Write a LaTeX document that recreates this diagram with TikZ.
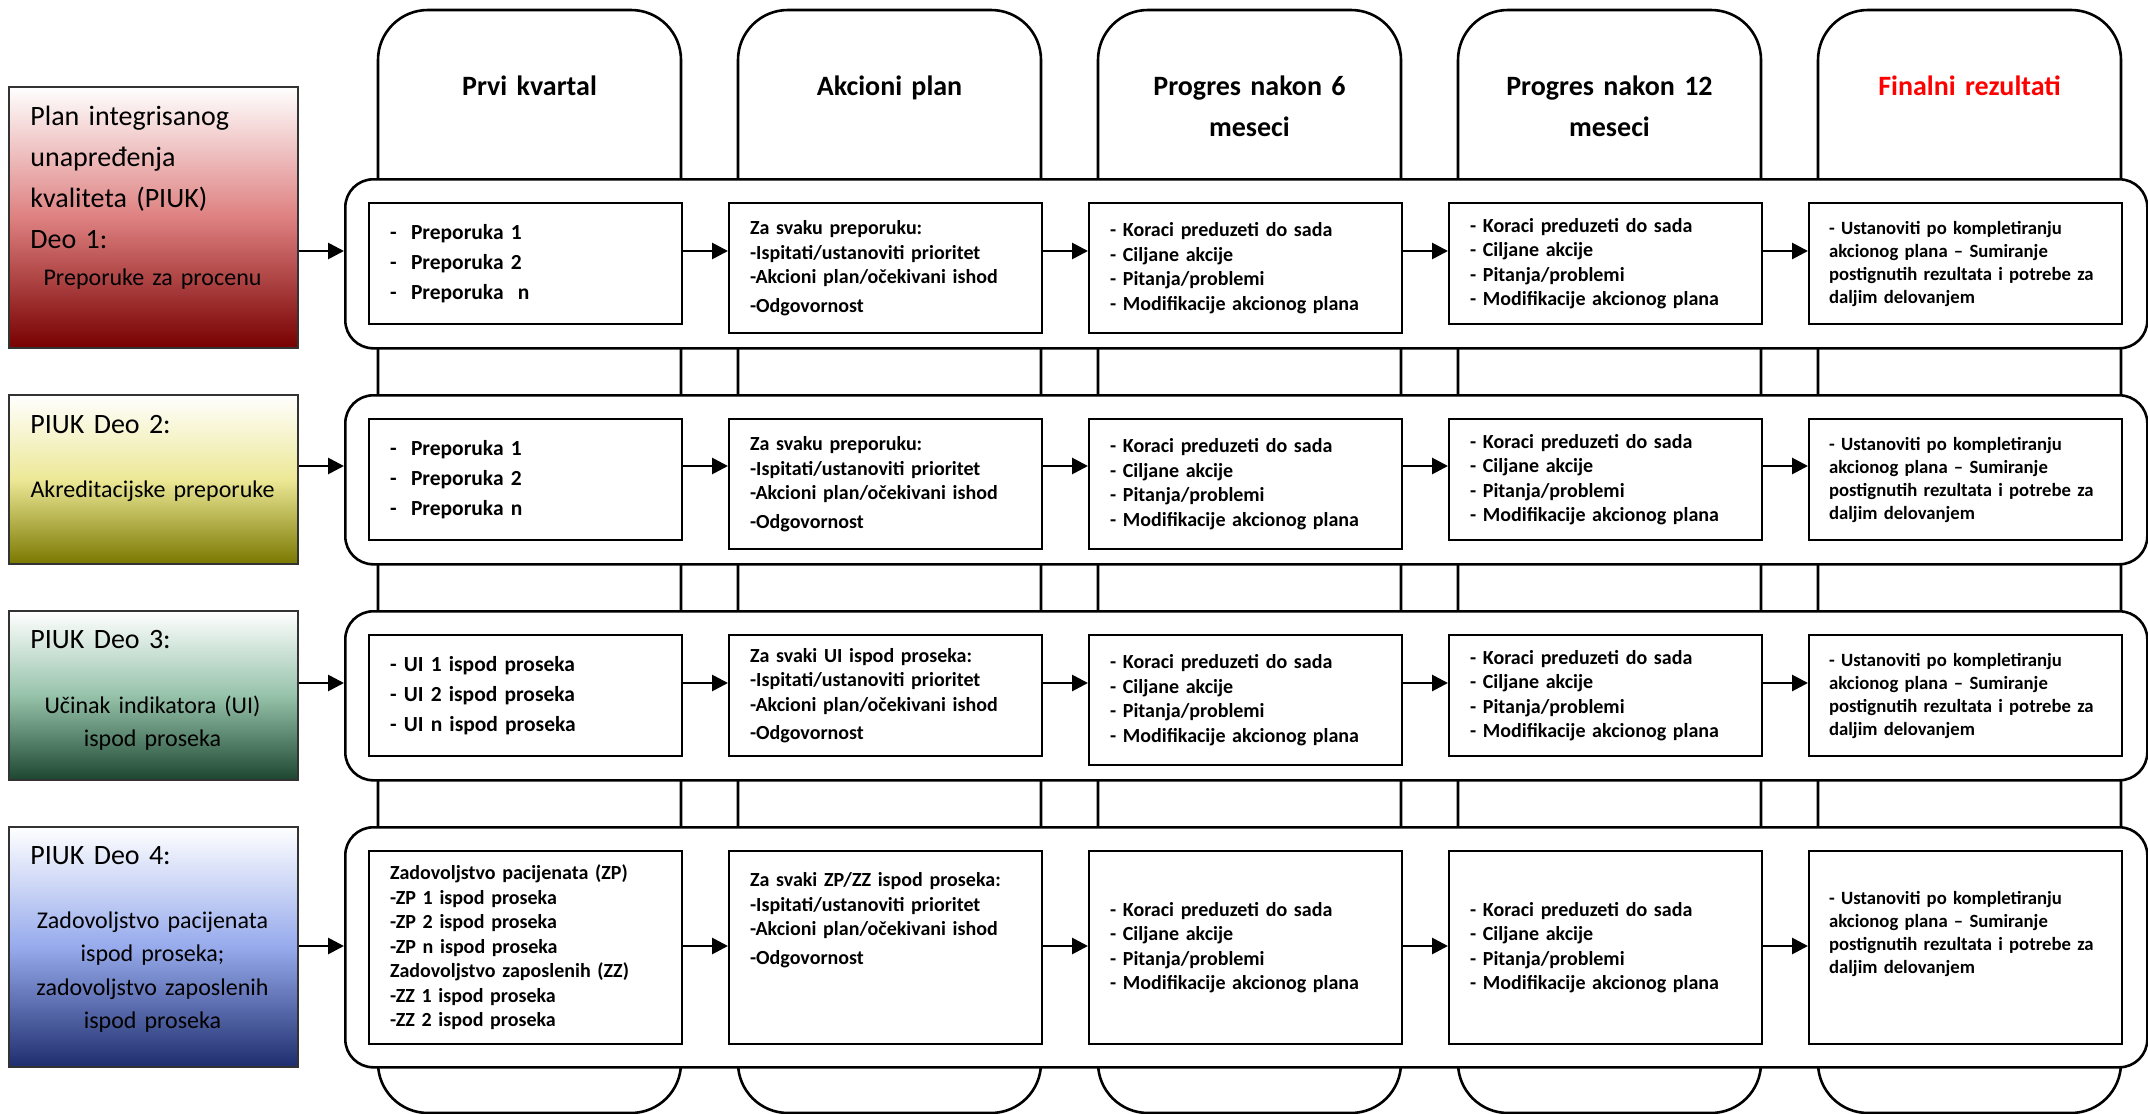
\documentclass[tikz,border=0pt]{standalone}
\usepackage{fontspec}
\setmainfont{Carlito}
\usepackage{xcolor}
\usetikzlibrary{arrows.meta,positioning}

\definecolor{redmid}{RGB}{222,128,128}
\definecolor{reddark}{RGB}{120,0,0}
\definecolor{olivemid}{RGB}{236,232,150}
\definecolor{olivedark}{RGB}{122,120,0}
\definecolor{greenmid}{RGB}{150,194,170}
\definecolor{greendark}{RGB}{28,70,48}
\definecolor{bluemid}{RGB}{150,170,236}
\definecolor{bluedark}{RGB}{30,45,110}

\begin{document}
\begin{tikzpicture}[x=0.5pt,y=-0.5pt,node distance=22.4pt,>={Triangle[length=8pt,width=8pt]},
  colbox/.style={draw,line width=1.3pt,rounded corners=25pt},
  band/.style={draw,line width=1.3pt,fill=white,rounded corners=14pt,anchor=north west,minimum width=901pt,minimum height=84.5pt},
  lbox/.style={draw=black!80,line width=1pt,anchor=north west,minimum width=144.5pt,minimum height=84.5pt},
  ltitle/.style={font=\fontsize{14}{20.5}\selectfont,text width=130pt,align=left,inner sep=0pt,anchor=base west},
  lsub/.style={font=\fontsize{12}{16.5}\selectfont,text width=140pt,align=center,inner sep=0pt,anchor=base},
  hdtext/.style={font=\bfseries\fontsize{14}{20.5}\selectfont,text width=145pt,align=center,inner sep=0pt,anchor=base},
  inbox/.style={draw,line width=1.1pt,fill=white,anchor=north west,minimum width=156.5pt,minimum height=60.5pt,text width=135.5pt,inner xsep=10.5pt,align=left,font=\bfseries\fontsize{10}{12.25}\selectfont},
  tallbox/.style={minimum height=65pt},
  firstcol/.style={font=\bfseries\fontsize{10.75}{15}\selectfont},
  lastcol/.style={font=\bfseries\fontsize{9.35}{11.5}\selectfont,inner xsep=10pt,text width=136.5pt},
  arr/.style={->,line width=1.4pt}]
\useasboundingbox (0,0) rectangle (2148,1114);

% stupci (kolone)
\foreach \i in {0,...,4}
  \draw[colbox] (378+360*\i,1113) rectangle (681+360*\i,10);

\node[hdtext] (hd1) at (529.5,95) {Prvi kvartal};
\node[hdtext] (hd2) at (889.5,95) {Akcioni plan};
\node[hdtext] (hd3) at (1249.5,95) {Progres nakon 6\\meseci};
\node[hdtext] (hd4) at (1609.5,95) {Progres nakon 12\\meseci};
\node[hdtext,text=red] (hd5) at (1969.5,95) {Finalni rezultati};

% redovi
\node[band] (band1) at (344,178) {};
\node[band] (band2) at (344,394) {};
\node[band] (band3) at (344,610) {};
\node[band,minimum height=120pt] (band4) at (344,826) {};

% levi blokovi
\node[lbox,minimum height=130.5pt,top color=white,bottom color=reddark,middle color=redmid] (lbox1) at (8,86) {};
\node[lbox,top color=white,bottom color=olivedark,middle color=olivemid] (lbox2) at (8,394) {};
\node[lbox,top color=white,bottom color=greendark,middle color=greenmid] (lbox3) at (8,610) {};
\node[lbox,minimum height=120pt,top color=white,bottom color=bluedark,middle color=bluemid] (lbox4) at (8,826) {};

\node[ltitle] (lt1) at (30,125) {Plan integrisanog\\unapređenja\\kvaliteta (PIUK)\\Deo 1:};
\node[lsub] (ls1) at (152.5,285) {Preporuke za procenu};
\node[ltitle] (lt2) at (30,433) {PIUK Deo 2:};
\node[lsub] (ls2) at (152.5,497) {Akreditacijske preporuke};
\node[ltitle] (lt3) at (30,648) {PIUK Deo 3:};
\node[lsub] (ls3) at (152.5,713) {Učinak indikatora (UI)\\ispod proseka};
\node[ltitle] (lt4) at (30,864) {PIUK Deo 4:};
\node[lsub,font=\fontsize{12}{16.8}\selectfont] (ls4) at (152.5,928) {Zadovoljstvo pacijenata\\ispod proseka;\\zadovoljstvo zaposlenih\\ispod proseka};

% red 1
\node[inbox,firstcol] (c11) at (368,202) {-~~Preporuka 1\\-~~Preporuka 2\\-~~Preporuka~~n};
\node[inbox,tallbox,right=of c11.north east,anchor=north west] (c12) {Za svaku preporuku:\\-Ispitati/ustanoviti prioritet\\-Akcioni plan/očekivani ishod\\[2pt]-Odgovornost};
\node[inbox,tallbox,right=of c12.north east,anchor=north west] (c13) {- Koraci preduzeti do sada\\- Ciljane akcije\\- Pitanja/problemi\\- Modifikacije akcionog plana};
\node[inbox,right=of c13.north east,anchor=north west] (c14) {- Koraci preduzeti do sada\\- Ciljane akcije\\- Pitanja/problemi\\- Modifikacije akcionog plana};
\node[inbox,lastcol,right=of c14.north east,anchor=north west] (c15) {- Ustanoviti po kompletiranju\\akcionog plana – Sumiranje\\postignutih rezultata i potrebe za\\daljim delovanjem};

% red 2
\node[inbox,firstcol] (c21) at (368,418) {-~~Preporuka 1\\-~~Preporuka 2\\-~~Preporuka n};
\node[inbox,tallbox,right=of c21.north east,anchor=north west] (c22) {Za svaku preporuku:\\-Ispitati/ustanoviti prioritet\\-Akcioni plan/očekivani ishod\\[2pt]-Odgovornost};
\node[inbox,tallbox,right=of c22.north east,anchor=north west] (c23) {- Koraci preduzeti do sada\\- Ciljane akcije\\- Pitanja/problemi\\- Modifikacije akcionog plana};
\node[inbox,right=of c23.north east,anchor=north west] (c24) {- Koraci preduzeti do sada\\- Ciljane akcije\\- Pitanja/problemi\\- Modifikacije akcionog plana};
\node[inbox,lastcol,right=of c24.north east,anchor=north west] (c25) {- Ustanoviti po kompletiranju\\akcionog plana – Sumiranje\\postignutih rezultata i potrebe za\\daljim delovanjem};

% red 3
\node[inbox,firstcol] (c31) at (368,634) {- UI 1 ispod proseka\\- UI 2 ispod proseka\\- UI n ispod proseka};
\node[inbox,right=of c31.north east,anchor=north west] (c32) {Za svaki UI ispod proseka:\\-Ispitati/ustanoviti prioritet\\-Akcioni plan/očekivani ishod\\[2pt]-Odgovornost};
\node[inbox,tallbox,right=of c32.north east,anchor=north west] (c33) {- Koraci preduzeti do sada\\- Ciljane akcije\\- Pitanja/problemi\\- Modifikacije akcionog plana};
\node[inbox,right=of c33.north east,anchor=north west] (c34) {- Koraci preduzeti do sada\\- Ciljane akcije\\- Pitanja/problemi\\- Modifikacije akcionog plana};
\node[inbox,lastcol,right=of c34.north east,anchor=north west] (c35) {- Ustanoviti po kompletiranju\\akcionog plana – Sumiranje\\postignutih rezultata i potrebe za\\daljim delovanjem};

% red 4
\node[inbox,minimum height=96.5pt] (c41) at (368,850) {Zadovoljstvo pacijenata (ZP)\\-ZP 1 ispod proseka\\-ZP 2 ispod proseka\\-ZP n ispod proseka\\Zadovoljstvo zaposlenih (ZZ)\\-ZZ 1 ispod proseka\\-ZZ 2 ispod proseka};
\node[inbox,minimum height=96.5pt,right=of c41.north east,anchor=north west] (c42) {Za svaki ZP/ZZ ispod proseka:\\-Ispitati/ustanoviti prioritet\\-Akcioni plan/očekivani ishod\\[2pt]-Odgovornost\\[17pt]\mbox{}};
\node[inbox,minimum height=96.5pt,right=of c42.north east,anchor=north west] (c43) {- Koraci preduzeti do sada\\- Ciljane akcije\\- Pitanja/problemi\\- Modifikacije akcionog plana};
\node[inbox,minimum height=96.5pt,right=of c43.north east,anchor=north west] (c44) {- Koraci preduzeti do sada\\- Ciljane akcije\\- Pitanja/problemi\\- Modifikacije akcionog plana};
\node[inbox,lastcol,minimum height=96.5pt,right=of c44.north east,anchor=north west] (c45) {- Ustanoviti po kompletiranju\\akcionog plana – Sumiranje\\postignutih rezultata i potrebe za\\daljim delovanjem\\[4pt]\mbox{}};

% strelice
\foreach \r/\y in {1/251,2/466,3/683,4/946}{
  \coordinate (ar\r) at (0,\y);
  \draw[arr] (lbox\r.east |- ar\r) -- (band\r.west |- ar\r);
  \foreach \c/\n in {1/2,2/3,3/4,4/5}
    \draw[arr] (c\r\c.east |- ar\r) -- (c\r\n.west |- ar\r);
}
\end{tikzpicture}
\end{document}
